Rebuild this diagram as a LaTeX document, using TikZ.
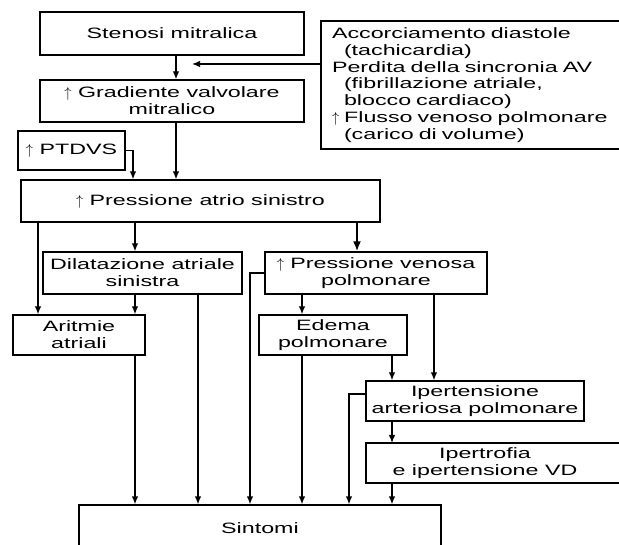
\documentclass[tikz,border=0pt]{standalone}
\usepackage{fontspec}
\setmainfont{Liberation Sans}[FakeStretch=1.55]
\usetikzlibrary{arrows.meta}

\newcommand\upar{$\uparrow$}

\tikzset{
	box/.style={draw, line width=1.3pt, inner sep=0pt, align=center,
		font=\fontsize{15}{16.8}\selectfont},
	link/.style={->, line width=1.3pt},
	biglink/.style={-{Latex[length=10pt,width=8pt]}, line width=2.4pt},
}

\begin{document}
\begin{tikzpicture}[x=1pt, y=-1pt, >={Latex[length=8pt,width=6.5pt]}]
	\useasboundingbox (0,0) rectangle (619,545);
	\coordinate (ca) at (38,0);
	\coordinate (cb) at (133,0);
	\coordinate (cc) at (135,0);
	\coordinate (cd) at (176,0);
	\coordinate (ce) at (198,0);
	\coordinate (cf) at (250,0);
	\coordinate (cg) at (302,0);
	\coordinate (ch) at (349,0);
	\coordinate (ci) at (357,0);
	\coordinate (cj) at (392,0);
	\coordinate (ck) at (434,0);
	\coordinate (m) at (192,64);
	\node[box, minimum width=264, minimum height=43] (sten) at (172,33.5) {Stenosi mitralica};
	\node[box, minimum width=264, minimum height=42] (grad) at (172,101) {\upar\ Gradiente valvolare\\mitralico};
	\node[box, align=left, text width=297pt, inner xsep=11pt, minimum height=128] (cause) at (480.5,85)
		{Accorciamento diastole\\
		\hspace*{12pt}(tachicardia)\\
		Perdita della sincronia AV\\
		\hspace*{12pt}(fibrillazione atriale,\\
		\hspace*{12pt}blocco cardiaco)\\
		\upar\ Flusso venoso polmonare\\
		\hspace*{12pt}(carico di volume)};
	\node[box, minimum width=107, minimum height=39] (ptdvs) at (71.5,150.5) {\upar\ PTDVS};
	\node[box, minimum width=359, minimum height=42] (atrio) at (200.5,201) {\upar\ Pressione atrio sinistro};
	\node[box, minimum width=199, minimum height=42] (dilat) at (142.5,273) {Dilatazione atriale\\sinistra};
	\node[box, minimum width=222, minimum height=42] (venosa) at (376,273) {\upar\ Pressione venosa\\polmonare};
	\node[box, minimum width=132, minimum height=40] (aritmie) at (79,335) {Aritmie\\atriali};
	\node[box, minimum width=148, minimum height=40] (edema) at (333,335) {Edema\\polmonare};
	\node[box, minimum width=218, minimum height=40] (iperart) at (475,401) {Ipertensione\\arteriosa polmonare};
	\node[box, draw=none, outer sep=0pt, minimum width=238, minimum height=40] (ipertro) at (485,463) {Ipertrofia\\e ipertensione VD};
	\draw[line width=1.3pt] ([xshift=40pt]ipertro.north east) -- (ipertro.north west)
		-- (ipertro.south west) -- ([xshift=40pt]ipertro.south east);
	\node[box, minimum width=362, minimum height=46] (sintomi) at (260,528) {Sintomi};
	\draw[link] (sten.south -| cd) -- (grad.north -| cd);
	\draw[link] (cause.west |- m) -- (m);
	\draw[link] (grad.south -| cd) -- (atrio.north -| cd);
	\draw[link] (ptdvs.east) -| (atrio.north -| cb);
	\draw[link] (atrio.south -| ca) -- (aritmie.north -| ca);
	\draw[link] (atrio.south -| cc) -- (dilat.north -| cc);
	\draw[biglink] (atrio.south -| ci) -- (venosa.north -| ci);
	\draw[link] (dilat.south -| cc) -- (aritmie.north -| cc);
	\draw[link] (aritmie.south -| cc) -- (sintomi.north -| cc);
	\draw[link] (dilat.south -| ce) -- (sintomi.north -| ce);
	\draw[link] (venosa.west) -| (sintomi.north -| cf);
	\draw[link] (venosa.south -| cg) -- (edema.north -| cg);
	\draw[link] (venosa.south -| ck) -- (iperart.north -| ck);
	\draw[link] (edema.south -| cg) -- (sintomi.north -| cg);
	\draw[link] (edema.south -| cj) -- (iperart.north -| cj);
	\draw[link] ([yshift=7pt]iperart.west) -| (sintomi.north -| ch);
	\draw[link] (iperart.south -| cj) -- (ipertro.north -| cj);
	\draw[link] (ipertro.south -| cj) -- (sintomi.north -| cj);
\end{tikzpicture}
\end{document}
